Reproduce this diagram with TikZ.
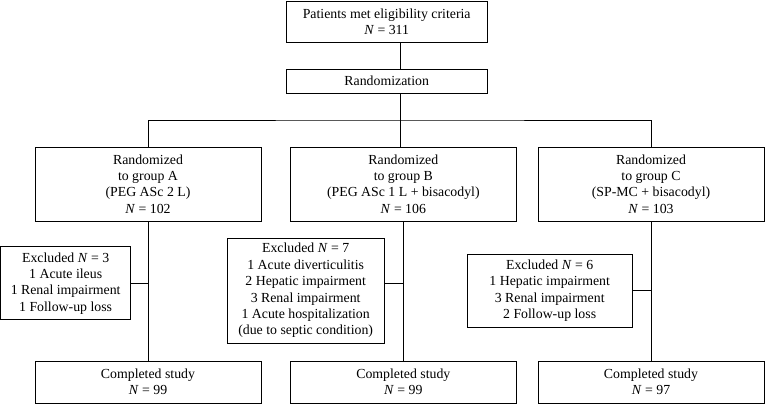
\documentclass[tikz,border=0pt]{standalone}
\usepackage{fontspec}
\setmainfont{Liberation Serif}
\usepackage{tikz}
\usetikzlibrary{positioning}

\begin{document}
\begin{tikzpicture}[
    box/.style={draw, line width=0.6pt, align=center, inner sep=1pt, font=\fontsize{11.8}{14}\selectfont},
    group/.style={box, minimum width=6.78cm, minimum height=2.22cm},
    done/.style={box, minimum width=6.78cm, minimum height=1.26cm},
    link/.style={line width=0.6pt},
]
    \useasboundingbox (0,0) rectangle (22.95,-12.48);

    % Enrolment
    \node[box, minimum width=6.03cm, minimum height=1.23cm] (top) at (11.6, -0.65) {Patients met eligibility criteria\\\textit{N} = 311};
    \node[box, minimum width=6.03cm, minimum height=0.72cm] (rand) at (11.6, -2.43) {Randomization};
    \coordinate (trunk) at (12.0, -3.6);

    % Groups
    \node[group] (grpA) at (4.44, -5.52) {Randomized\\to group A\\(PEG ASc 2 L)\\\textit{N} = 102};
    \node[group] (grpB) at (12.1, -5.52) {Randomized\\to group B\\(PEG ASc 1 L + bisacodyl)\\\textit{N} = 106};
    \node[group] (grpC) at (19.53, -5.52) {Randomized\\to group C\\(SP-MC + bisacodyl)\\\textit{N} = 103};

    % Excluded
    \node[box, minimum width=3.9cm, minimum height=2.19cm] (exA) at (1.97, -8.5) {Excluded \textit{N} = 3\\1 Acute ileus\\1 Renal impairment\\1 Follow-up loss};
    \node[box, minimum width=4.71cm, minimum height=3.15cm] (exB) at (9.17, -8.715) {Excluded \textit{N} = 7\\1 Acute diverticulitis\\2 Hepatic impairment\\3 Renal impairment\\1 Acute hospitalization\\(due to septic condition)};
    \node[box, minimum width=4.95cm, minimum height=2.19cm] (exC) at (16.49, -8.715) {Excluded \textit{N} = 6\\1 Hepatic impairment\\3 Renal impairment\\2 Follow-up loss};

    % Completed
    \node[done] (compA) at (4.44, -11.46) {Completed study\\\textit{N} = 99};
    \node[done] (compB) at (12.1, -11.46) {Completed study\\\textit{N} = 99};
    \node[done] (compC) at (19.53, -11.46) {Completed study\\\textit{N} = 97};

    % Connectors
    \draw[link] (top.south -| trunk) -- (rand.north -| trunk);
    \draw[link] (rand.south -| trunk) -- (trunk);
    \draw[link] (grpA.north) |- (trunk) -| (grpC.north);
    \draw[link] (trunk) -- (grpB.north -| trunk);
    \draw[link] (grpA.south) -- (compA.north);
    \draw[link] (grpB.south) -- (compB.north);
    \draw[link] (grpC.south) -- (compC.north);
    \draw[link] (exA.east) -- (exA.east -| grpA.south);
    \draw[link] ([yshift=0.2cm]exB.east) -- ([yshift=0.2cm]exB.east -| grpB.south);
    \draw[link] (exC.east) -- (exC.east -| grpC.south);
\end{tikzpicture}
\end{document}
